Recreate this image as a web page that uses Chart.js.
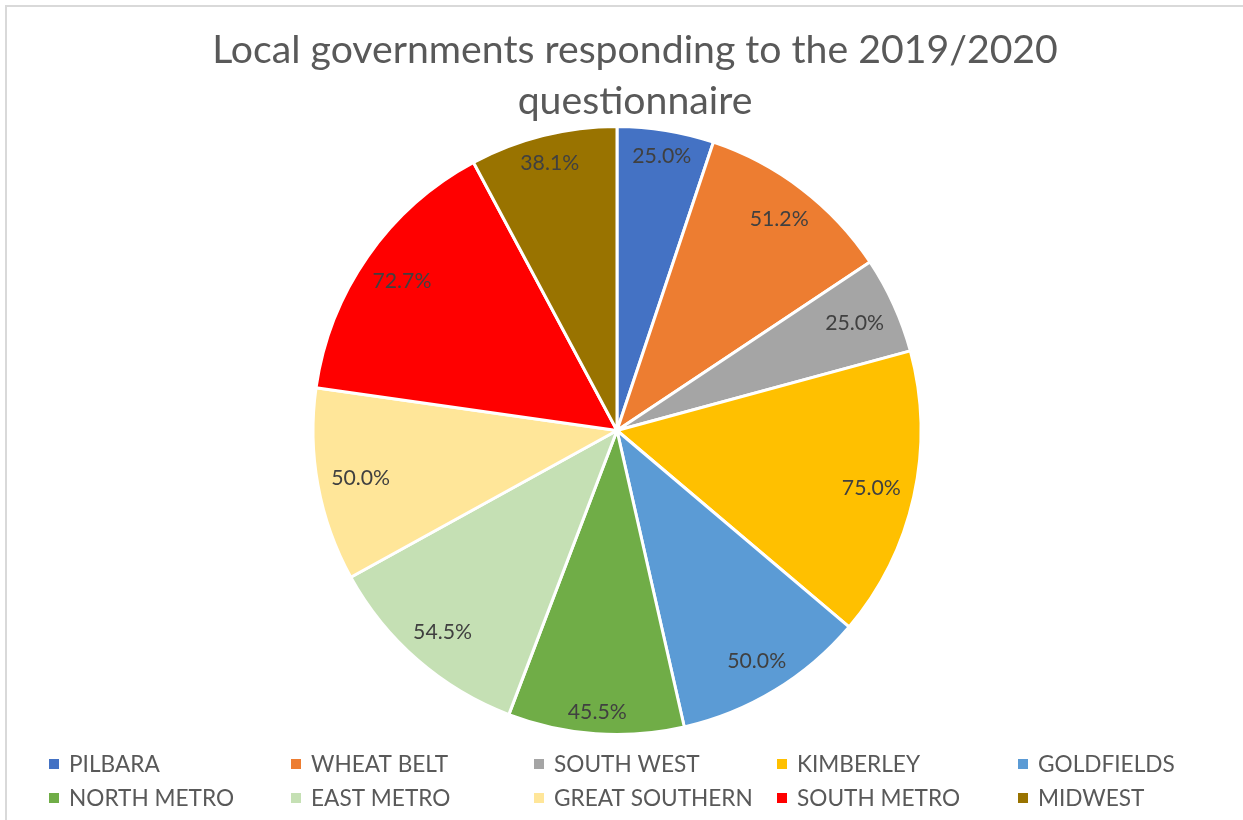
<!DOCTYPE html>
<html><head><meta charset="utf-8">
<script src="https://cdn.jsdelivr.net/npm/chart.js@4.4.1/dist/chart.umd.min.js"></script>
<style>html,body{margin:0;padding:0;background:#fff;} canvas{display:block;}</style>
</head><body>
<canvas id="c" width="1243" height="820"></canvas>
<script>
const titleLines = ["Local governments responding to the 2019/2020", "questionnaire"];
const regions = ["PILBARA","WHEAT BELT","SOUTH WEST","KIMBERLEY","GOLDFIELDS","NORTH METRO","EAST METRO","GREAT SOUTHERN","SOUTH METRO","MIDWEST"];
const responseRates = [25.0, 51.2, 25.0, 75.0, 50.0, 45.5, 54.5, 50.0, 72.7, 38.1];
const sliceColors = ["#4472C4","#ED7D31","#A5A5A5","#FFC000","#5B9BD5","#70AD47","#C5E0B4","#FFE699","#FF0000","#997300"];

const FONT = "Lato, 'Open Sans', sans-serif";
function fitSize(text, target, weight) {
  const ctx = document.createElement('canvas').getContext('2d');
  ctx.font = weight + " 100px " + FONT;
  return 100 * target / ctx.measureText(text).width;
}
const titleSize = fitSize(titleLines[0], 846, 'normal');
const labelSize = fitSize('25.0%', 59, 'normal');
const legendSize = fitSize('GREAT SOUTHERN', 199, 'normal');

const decor = {
  id: 'decor',
  beforeDraw(chart) {
    const ctx = chart.ctx;
    ctx.save();
    ctx.fillStyle = '#fff';
    ctx.fillRect(0, 0, chart.width, chart.height);
    ctx.strokeStyle = '#D9D9D9';
    ctx.lineWidth = 2;
    ctx.beginPath();
    ctx.moveTo(6, chart.height);
    ctx.lineTo(6, 6);
    ctx.lineTo(chart.width, 6);
    ctx.stroke();
    ctx.restore();
  },
  afterDraw(chart) {
    const ctx = chart.ctx;
    ctx.save();
    // title
    ctx.fillStyle = '#595959';
    ctx.font = 'normal ' + titleSize + 'px ' + FONT;
    ctx.textAlign = 'center';
    ctx.textBaseline = 'alphabetic';
    ctx.fillText(titleLines[0], 635, 63);
    ctx.fillText(titleLines[1], 635, 114);
    // data labels
    const meta = chart.getDatasetMeta(0);
    ctx.font = 'normal ' + labelSize + 'px ' + FONT;
    ctx.fillStyle = '#404040';
    const capH = labelSize * 0.72;
    meta.data.forEach((arc, i) => {
      const p = arc.getProps(['x','y','startAngle','endAngle','outerRadius'], true);
      const mid = (p.startAngle + p.endAngle) / 2;
      const c = Math.cos(mid), s = Math.sin(mid);
      const txt = responseRates[i].toFixed(1) + '%';
      const w = ctx.measureText(txt).width;
      const ext = Math.abs(c) * w / 2 + Math.abs(s) * capH / 2;
      const d = p.outerRadius - 13 - ext;
      ctx.fillText(txt, p.x + c * d, p.y + s * d + capH / 2);
    });
    // legend
    const colX = [49, 291, 534, 777, 1018];
    const rowY = [764, 798];
    ctx.font = 'normal ' + legendSize + 'px ' + FONT;
    ctx.textAlign = 'left';
    const lcap = legendSize * 0.72;
    regions.forEach((r, i) => {
      const x = colX[i % 5], y = rowY[Math.floor(i / 5)];
      ctx.fillStyle = sliceColors[i];
      ctx.fillRect(x, y - 5, 10, 10);
      ctx.fillStyle = '#595959';
      ctx.fillText(r, x + 20, y + lcap / 2);
    });
    ctx.restore();
  }
};

new Chart(document.getElementById('c'), {
  type: 'pie',
  data: {
    labels: regions,
    datasets: [{
      data: responseRates,
      backgroundColor: sliceColors,
      borderColor: '#FFFFFF',
      borderWidth: 3,
      radius: 304
    }]
  },
  options: {
    responsive: false,
    animation: false,
    layout: { padding: { top: 126, bottom: 85, left: 0, right: 9 } },
    plugins: { legend: { display: false }, title: { display: false }, tooltip: { enabled: false } }
  },
  plugins: [decor]
});
</script>
</body></html>
